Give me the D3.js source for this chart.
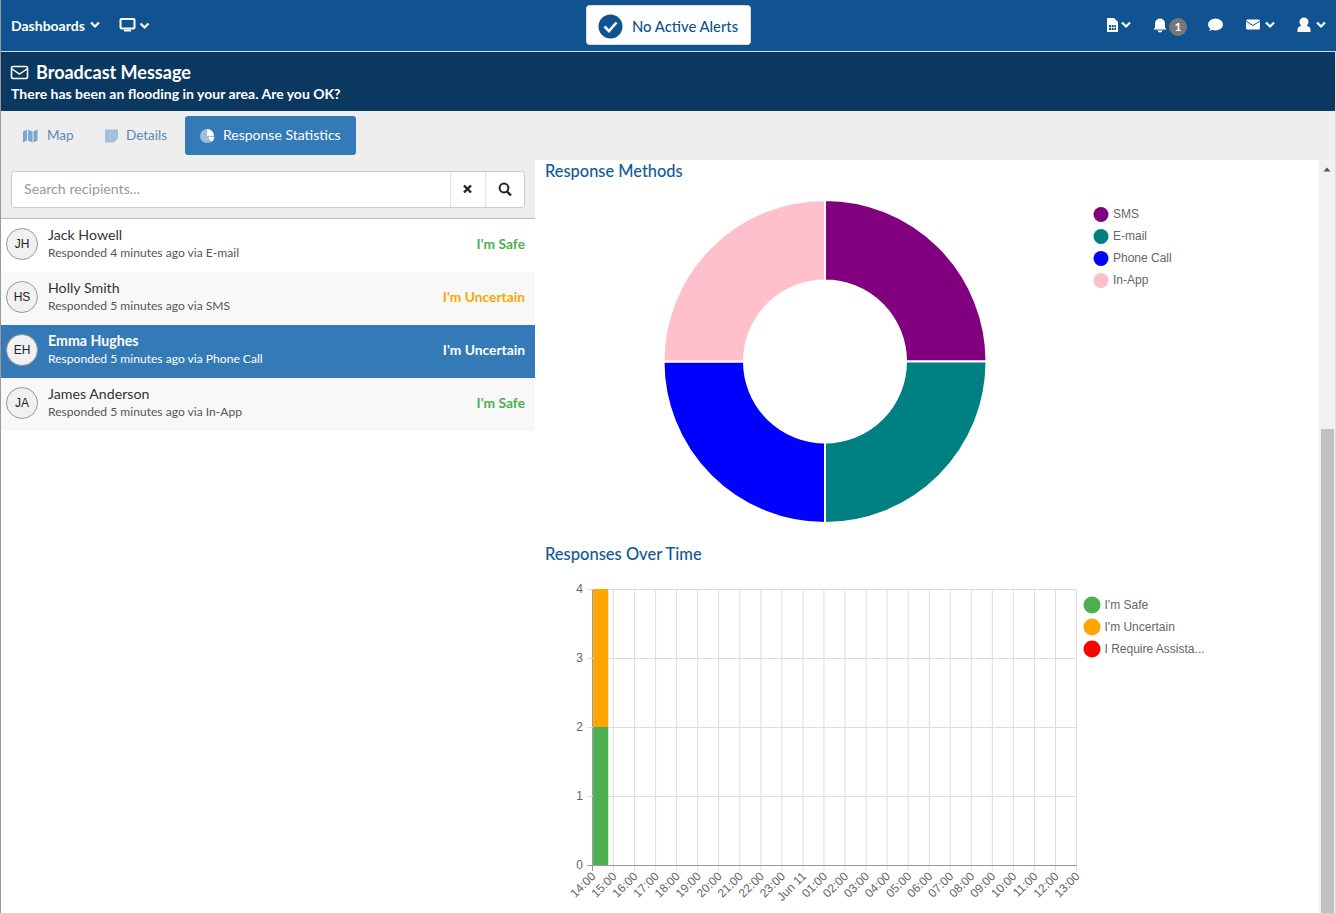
<!DOCTYPE html>
<html><head><meta charset="utf-8">
<style>html,body{margin:0;padding:0;background:#eee;overflow:hidden}svg{display:block}</style>
<script src="https://cdnjs.cloudflare.com/ajax/libs/d3/7.8.5/d3.min.js"></script>
</head><body><svg id="c" width="1336" height="913"></svg>
<script>
const methodLabels = ["SMS","E-mail","Phone Call","In-App"];
const methodValues = [1,1,1,1];
const methodColors = ["#800080","#008080","#0000ff","#ffc0cb"];
const timeLabels = ["14:00","15:00","16:00","17:00","18:00","19:00","20:00","21:00","22:00","23:00","Jun 11","01:00","02:00","03:00","04:00","05:00","06:00","07:00","08:00","09:00","10:00","11:00","12:00","13:00"];
const statusLabels = ["I'm Safe","I'm Uncertain","I Require Assista..."];
const statusColors = ["#4caf50","#ffa500","#ff0000"];
const safeValues =      [2,0,0,0,0,0,0,0,0,0,0,0,0,0,0,0,0,0,0,0,0,0,0,0];
const uncertainValues = [2,0,0,0,0,0,0,0,0,0,0,0,0,0,0,0,0,0,0,0,0,0,0,0];
const assistValues =    [0,0,0,0,0,0,0,0,0,0,0,0,0,0,0,0,0,0,0,0,0,0,0,0];
const yTicks = [0,1,2,3,4];
const recipients = [
 ["JH","Jack Howell","Responded 4 minutes ago via E-mail","I'm Safe"],
 ["HS","Holly Smith","Responded 5 minutes ago via SMS","I'm Uncertain"],
 ["EH","Emma Hughes","Responded 5 minutes ago via Phone Call","I'm Uncertain"],
 ["JA","James Anderson","Responded 5 minutes ago via In-App","I'm Safe"]];

const UI = "Lato, 'Open Sans', sans-serif", AR = "'Liberation Sans', Arial, sans-serif";
const svg = d3.select("#c");
function rect(x,y,w,h,f,extra={}){const r=svg.append("rect").attr("x",x).attr("y",y).attr("width",w).attr("height",h).attr("fill",f);for(const k in extra)r.attr(k,extra[k]);return r;}
function text(x,y,s,size,fill,opt={}){return svg.append("text").attr("x",x).attr("y",y).attr("dy","0.35em").text(s)
  .attr("font-family",opt.family||UI).attr("font-size",size).attr("fill",fill).attr("font-weight",opt.weight||400)
  .attr("text-anchor",opt.anchor||"start").attr("stroke",opt.stroke||"none").attr("stroke-width",opt.sw||0);}
function path(d,fill,stroke,sw){return svg.append("path").attr("d",d).attr("fill",fill||"none").attr("stroke",stroke||"none").attr("stroke-width",sw||0);}
function chev(x,y,c="#fff"){path(`M${x-4},${y-2.5}L${x},${y+1.5}L${x+4},${y-2.5}`,"none",c,2.2);}

// page chrome
rect(0,0,1336,913,"#eeeeee");
rect(0,0,1336,51,"#105390");
rect(0,51,1336,1,"#cfe0ee");
rect(0,52,1336,59,"#0a3861");
rect(0,0,1,913,"#999");
rect(535,160,784,753,"#fff");
rect(1,218,534,695,"#fff");
rect(1,218,534,1,"#bbb");

// navbar
text(11,26,"Dashboards",14,"#fff",{weight:700});
chev(95,25);
rect(120.5,19,14,9.5,"none",{stroke:"#fff","stroke-width":2,rx:1});
rect(124,29.5,7,2,"#fff");
chev(144.5,26);
rect(586.5,5.5,164,39,"#fff",{rx:3,stroke:"#ddd"});
svg.append("circle").attr("cx",610.5).attr("cy",26.5).attr("r",12).attr("fill","#105390");
path("M604.5,26.5L609,31L616.5,22.5","none","#fff",2.6);
text(632,26.5,"No Active Alerts",14.8,"#105390",{weight:500});

// right icons
path("M1107,18h7l4,4v10h-11z","#fff");rect(1109,25,7,5,"#105390");
path("M1109,27.5h7M1111.5,25v5M1114,25v5","none","#fff",.7);
chev(1126,25);
path("M1153.5,29.5l1.5,-2v-4a5,5 0 0 1 10,0v4l1.5,2zM1157.5,30.5a2.6,2.6 0 0 0 5,0z","#fff");
svg.append("circle").attr("cx",1178).attr("cy",27).attr("r",9).attr("fill","#777");
text(1178,27,"1",12,"#fff",{anchor:"middle",weight:700});
svg.append("ellipse").attr("cx",1215.5).attr("cy",24.5).attr("rx",7.5).attr("ry",6).attr("fill","#fff");
path("M1209,31l3,-5l3,3z","#fff");
rect(1246,19.5,14,10,"#fff",{rx:1.5});path("M1246,21l7,4.5l7,-4.5","none","#105390",1);
chev(1270,25);
svg.append("circle").attr("cx",1304).attr("cy",22).attr("r",4.5).attr("fill","#fff");
path("M1297.5,32v-2.5a4,4 0 0 1 4,-3.5h5a4,4 0 0 1 4,3.5v2.5z","#fff");
chev(1321,25);

// banner
rect(11.5,66.5,16,12,"none",{stroke:"#fff","stroke-width":1.6,rx:1.5});
path("M12,69l7.5,5l7.5,-5","none","#fff",1.5);
text(36,72.5,"Broadcast Message",18,"#fff",{weight:700});
text(11,94.5,"There has been an flooding in your area. Are you OK?",14,"#fff",{weight:700});

// tabs
const tabBlue="#337ab7";
path("M23,131.5l4,-2v11l-4,2zM28,129.5l4.5,2v11l-4.5,-2zM33.5,131.5l4,-2v11l-4,2z","#7ba6cf");
text(47,135.5,"Map",13.5,"#5a88b5");
path("M105,129.5h13v9l-4,4h-9z","#a3c0dc");
text(126,135.5,"Details",13.5,"#5a88b5");
rect(185,116,171,39,tabBlue,{rx:3});
svg.append("circle").attr("cx",207).attr("cy",136).attr("r",7).attr("fill","#9cc0e0");
path("M207,129a7,7 0 0 1 7,7h-7z","#fff");path("M208,137h6.5a7,7 0 0 1 -3,5z","#fff");
text(223,135.5,"Response Statistics",14,"#fff");

// search
rect(11.5,171.5,513,36,"#fff",{rx:3,stroke:"#ccc"});
rect(450.5,171.5,0.6,36,"#ccc");rect(485.5,171.5,0.6,36,"#ccc");
text(24,189.5,"Search recipients...",14.2,"#999");
path("M464,185.5l7,7M471,185.5l-7,7","none","#222",2.4);
svg.append("circle").attr("cx",504).attr("cy",188).attr("r",4.4).attr("fill","none").attr("stroke","#222").attr("stroke-width",2);
path("M507,191.5l4,4","none","#222",2.4);

// list rows
const rowFill=["#fff","#f8f8f8","#337ab7","#f8f8f8"], statusFill={"I'm Safe":"#4caf50","I'm Uncertain":"#ffa500"};
const rowY=d3.scaleBand().domain(d3.range(recipients.length)).range([219,431]);
recipients.forEach((r,i)=>{
  const y=rowY(i), sel=i===2;
  rect(1,y,534,rowY.bandwidth(),rowFill[i]);
  svg.append("circle").attr("cx",22).attr("cy",y+25).attr("r",15.5).attr("fill","#f1f1f1").attr("stroke","#999");
  text(22,y+25,r[0],12,"#222",{anchor:"middle",family:AR});
  text(48,y+16.5,r[1],14.2,sel?"#fff":"#333",{weight:sel?700:400});
  text(48,y+34,r[2],12.1,sel?"#fff":"#555");
  text(525,y+25.5,r[3],13.8,sel?"#fff":statusFill[r[3]],{anchor:"end",weight:700});
});

// scrollbar
rect(1320,160,16,753,"#f1f1f1");
rect(1321,429,13,484,"#c1c1c1");
path("M1323.5,171.5l3.5,-4l3.5,4z","#505050");
rect(1335,52,1,861,"#ddd");

// titles
text(545,171,"Response Methods",16.4,"#0f5a96",{weight:500});
text(545,554,"Responses Over Time",16.5,"#0f5a96",{weight:500});

// donut
const pie=d3.pie().sort(null)(methodValues);
const arc=d3.arc().innerRadius(81).outerRadius(161.5);
svg.append("g").attr("transform","translate(825,361.5)").selectAll("path").data(pie).join("path")
  .attr("d",arc).attr("fill",(d,i)=>methodColors[i]).attr("stroke","#fff").attr("stroke-width",2);
const ml=d3.scalePoint().domain(methodLabels).range([214,280]);
methodLabels.forEach((m,i)=>{
  svg.append("circle").attr("cx",1101).attr("cy",ml(m)+.5).attr("r",7.5).attr("fill",methodColors[i]);
  text(1113,ml(m),m,12,"#666",{family:AR});
});

// stacked chart
const x=d3.scalePoint().domain(timeLabels).range([592.5,1076.5]);
const y=d3.scaleLinear().domain([0,4]).range([865,589]);
const g=svg.append("g");
g.append("g").selectAll("line").data(timeLabels).join("line")
  .attr("x1",d=>x(d)).attr("x2",d=>x(d)).attr("y1",589).attr("y2",871)
  .attr("stroke",(d,i)=>i===0?"#999":"#ddd");
g.append("g").selectAll("line").data(yTicks).join("line")
  .attr("x1",587).attr("x2",1076.5).attr("y1",d=>y(d)+.5).attr("y2",d=>y(d)+.5)
  .attr("stroke",d=>d===0?"#999":"#ddd");
const table=timeLabels.map((t,i)=>({t,safe:safeValues[i],uncertain:uncertainValues[i],assist:assistValues[i]}));
const stack=d3.stack().keys(["safe","uncertain","assist"])(table);
const barW=x.step()*0.72, barOff=x.step()*0.03;
g.append("g").selectAll("g").data(stack).join("g").attr("fill",(d,i)=>statusColors[i])
  .selectAll("rect").data(d=>d.filter(v=>v[1]>v[0])).join("rect")
  .attr("x",d=>x(d.data.t)+barOff).attr("width",barW)
  .attr("y",d=>y(d[1])).attr("height",d=>y(d[0])-y(d[1]));
yTicks.forEach(t=>text(583,y(t),t,12,"#666",{family:AR,anchor:"end"}));
timeLabels.forEach(t=>{
  g.append("text").text(t).attr("font-family",AR).attr("font-size",12).attr("fill","#666").attr("text-anchor","end")
   .attr("transform",`translate(${x(t)+1},${874}) rotate(-45)`).attr("dy","0.35em");
});
const sl=d3.scalePoint().domain(statusLabels).range([605,649]);
statusLabels.forEach((s,i)=>{
  svg.append("circle").attr("cx",1092).attr("cy",sl(s)).attr("r",8.5).attr("fill",statusColors[i]);
  text(1104.5,sl(s),s,12,"#666",{family:AR});
});
</script></body></html>
